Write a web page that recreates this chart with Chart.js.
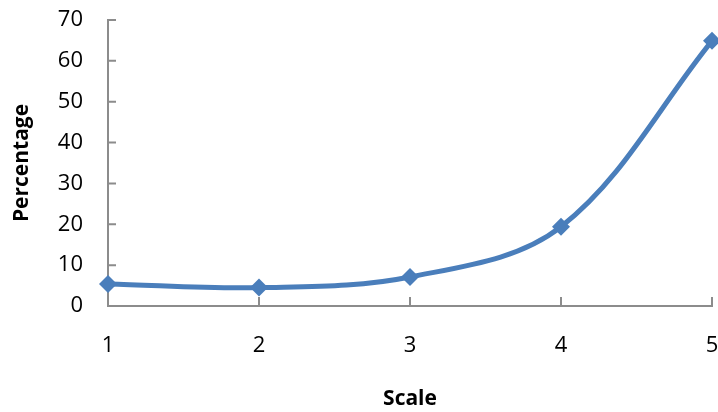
<!DOCTYPE html>
<html lang="en">
<head>
    <meta charset="UTF-8">
    <title>Percentage by Scale</title>
    <style>
        body {
            margin: 0;
            padding: 0;
            background: #ffffff;
        }

        .chart-container {
            width: 718px;
            height: 412px;
        }
    </style>
    <script src="https://cdn.jsdelivr.net/npm/chart.js"></script>
</head>
<body>
    <div class="chart-container">
        <canvas id="scaleChart"></canvas>
    </div>

    <script>
        // data
        const scaleValues = [1, 2, 3, 4, 5];
        const percentages = [5.4, 4.5, 7.1, 19.4, 64.9];
        const yTicks = [0, 10, 20, 30, 40, 50, 60, 70];

        const axisColor = '#8c8c8c';
        const lineColor = '#4a7ebb';

        // Excel style tick marks that point into the plot area
        const innerTicks = {
            id: 'innerTicks',
            afterDraw(chart) {
                const ctx = chart.ctx;
                const x = chart.scales.x;
                const y = chart.scales.y;
                ctx.save();
                ctx.strokeStyle = axisColor;
                ctx.lineWidth = 2;
                ctx.beginPath();
                yTicks.forEach(v => {
                    const py = y.getPixelForValue(v);
                    ctx.moveTo(x.left, py);
                    ctx.lineTo(x.left + 8, py);
                });
                scaleValues.forEach(v => {
                    const px = x.getPixelForValue(v);
                    ctx.moveTo(px, y.bottom);
                    ctx.lineTo(px, y.bottom - 9);
                });
                ctx.stroke();
                ctx.restore();
            }
        };

        const ctx = document.getElementById('scaleChart').getContext('2d');
        new Chart(ctx, {
            type: 'line',
            data: {
                datasets: [{
                    label: 'Percentage',
                    data: scaleValues.map((s, i) => ({ x: s, y: percentages[i] })),
                    borderColor: lineColor,
                    backgroundColor: lineColor,
                    borderWidth: 5,
                    tension: 0.35,
                    pointStyle: 'rectRot',
                    pointRadius: 9,
                    pointBorderWidth: 0,
                    clip: false,
                    fill: false
                }]
            },
            options: {
                responsive: true,
                maintainAspectRatio: false,
                animation: false,
                layout: {
                    autoPadding: false,
                    padding: { top: 20, right: 6, left: 0, bottom: 0 }
                },
                plugins: {
                    legend: { display: false },
                    tooltip: { enabled: false }
                },
                scales: {
                    x: {
                        type: 'linear',
                        min: 1,
                        max: 5,
                        afterFit: scale => {
                            scale.height = 106;
                            scale.paddingLeft = 0;
                            scale.paddingRight = 0;
                        },
                        grid: { display: false, drawTicks: false },
                        border: { color: axisColor, width: 2 },
                        ticks: {
                            stepSize: 1,
                            padding: 27,
                            color: '#000000',
                            font: { family: 'Open Sans', size: 22 }
                        },
                        title: {
                            display: true,
                            text: 'Scale',
                            color: '#000000',
                            padding: 0,
                            font: { family: 'Open Sans', size: 21, weight: 'bold' }
                        }
                    },
                    y: {
                        min: 0,
                        max: 70,
                        afterFit: scale => {
                            scale.width = 108;
                            scale.paddingTop = 0;
                            scale.paddingBottom = 0;
                        },
                        grid: { display: false, drawTicks: false },
                        border: { color: axisColor, width: 2 },
                        ticks: {
                            stepSize: 10,
                            padding: 25,
                            color: '#000000',
                            font: { family: 'Open Sans', size: 22 }
                        },
                        title: {
                            display: true,
                            text: 'Percentage',
                            color: '#000000',
                            padding: { top: 9, bottom: 0 },
                            font: { family: 'Open Sans', size: 21, weight: 'bold' }
                        }
                    }
                }
            },
            plugins: [innerTicks]
        });
    </script>
</body>
</html>
